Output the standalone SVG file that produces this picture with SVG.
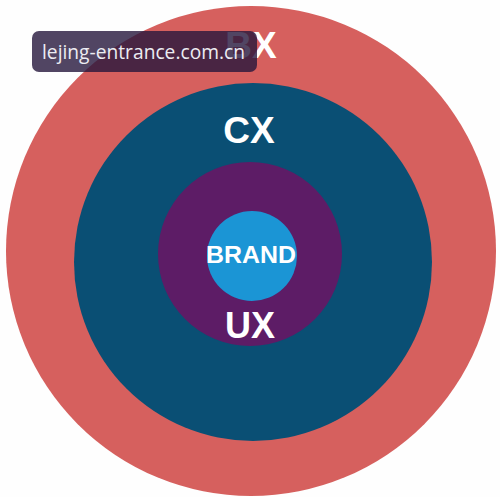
<svg xmlns="http://www.w3.org/2000/svg" width="500" height="497" viewBox="0 0 500 497">
<style>
.lbl{font-family:"Liberation Sans",Arial,sans-serif;font-weight:bold;fill:#ffffff;text-anchor:middle}
.wm{font-family:"Open Sans","Noto Sans",sans-serif;font-size:20px;fill:#ececf2}
</style>
<rect width="500" height="497" fill="#fefefe"/>
<g id="bx">
<circle cx="251" cy="251" r="245" fill="#d6605e"/>
<text class="lbl" x="251" y="58" font-size="37">BX</text>
</g>
<g id="cx">
<circle cx="253" cy="262" r="179" fill="#0a4f74"/>
<text class="lbl" x="249" y="143" font-size="37">CX</text>
</g>
<g id="ux">
<circle cx="250" cy="254" r="92" fill="#5d1c66"/>
<text class="lbl" x="250" y="338" font-size="36">UX</text>
</g>
<g id="brand">
<circle cx="252" cy="256" r="45" fill="#1b95d5"/>
<text class="lbl" x="251" y="263" font-size="24" textLength="90" lengthAdjust="spacingAndGlyphs">BRAND</text>
</g>
<g id="connectors"></g>
<g id="watermark">
<rect x="32" y="31" width="225" height="41" rx="7" fill="rgb(38,22,60)" fill-opacity="0.8"/>
<text class="wm" x="42" y="59" textLength="203" lengthAdjust="spacingAndGlyphs">lejing-entrance.com.cn</text>
</g>
</svg>
